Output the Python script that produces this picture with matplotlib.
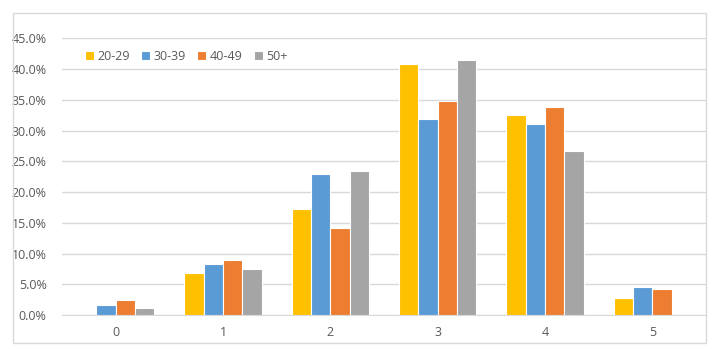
import numpy as np
import matplotlib.pyplot as plt
from matplotlib.patches import Rectangle
from matplotlib.ticker import PercentFormatter

# data (percent)
categories = ["0", "1", "2", "3", "4", "5"]
groups = ["20-29", "30-39", "40-49", "50+"]
v_20_29 = [0.0, 6.9, 17.2, 40.8, 32.5, 2.8]
v_30_39 = [1.6, 8.3, 23.0, 31.8, 31.0, 4.6]
v_40_49 = [2.4, 8.9, 14.1, 34.8, 33.9, 4.3]
v_50 = [1.1, 7.5, 23.5, 41.5, 26.6, 0.0]
colors = ["#FFC000", "#5B9BD5", "#ED7D31", "#A5A5A5"]

plt.rcParams['font.family'] = ['Open Sans', 'DejaVu Sans']
W, H = 721, 362
fig = plt.figure(figsize=(W / 100, H / 100), dpi=100)

# outer chart border
fig.patches.append(Rectangle((13 / W, 1 - 343 / H), (706 - 13) / W, (343 - 13) / H,
                             transform=fig.transFigure, fill=False,
                             edgecolor="#D9D9D9", linewidth=1))

ax = fig.add_axes([62 / W, 1 - 315 / H, (706 - 62) / W, (315 - 38.3) / H])

x = np.arange(len(categories))
w = 0.18
series = [v_20_29, v_30_39, v_40_49, v_50]
for i, (vals, name) in enumerate(zip(series, groups)):
    ax.bar(x + (i - 1.5) * w, vals, width=w, color=colors[i], label=name,
           edgecolor="white", linewidth=0.8, zorder=3)

ax.set_xlim(-0.5, 5.5)
ax.set_ylim(0, 45)
ax.set_yticks(np.arange(0, 46, 5))
ax.yaxis.set_major_formatter(PercentFormatter(decimals=1))
ax.set_xticks(x)
ax.set_xticklabels(categories)
ax.grid(axis="y", color="#D9D9D9", linewidth=1, zorder=0)
for s in ["top", "right", "left"]:
    ax.spines[s].set_visible(False)
ax.spines["bottom"].set_color("#D9D9D9")
ax.tick_params(length=0, labelsize=9, labelcolor="#595959")
ax.tick_params(axis="y", pad=11)
ax.tick_params(axis="x", pad=8)

leg = ax.legend(loc="center left", bbox_to_anchor=(80 / W, 1 - 56 / H),
                bbox_transform=fig.transFigure, ncol=4, frameon=False,
                handlelength=0.7, handleheight=0.7, handletextpad=0.3,
                columnspacing=0.9, fontsize=9, borderaxespad=0)
for t in leg.get_texts():
    t.set_color("#595959")

fig.savefig("out.png", dpi=100)
